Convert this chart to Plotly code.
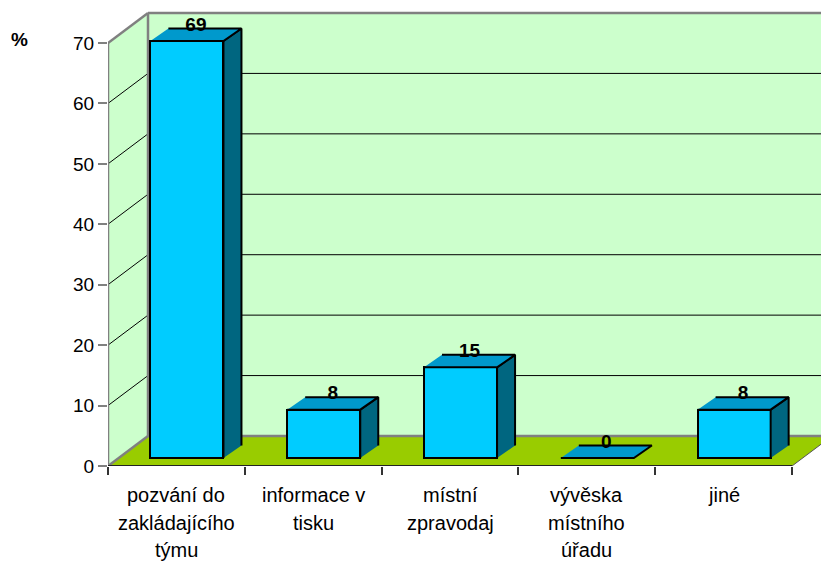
import plotly.graph_objects as go

# ---- data ----
categories = ["pozvání do<br>zakládajícího<br>týmu", "informace v<br>tisku",
              "místní<br>zpravodaj", "vývěska<br>místního<br>úřadu", "jiné"]
values = [69, 8, 15, 0, 8]
y_ticks = [0, 10, 20, 30, 40, 50, 60, 70]
y_unit = "%"

# ---- geometry / style constants (pseudo 3-D projection) ----
FONT = "Liberation Sans, Arial, sans-serif"
W, H = 821, 561
ML, MR, MT, MB = 108, 0, 0, 95
PX_X = 136.8          # px per category
PX_Y = 6.043          # px per percent
X0 = -0.5
X_MAX = X0 + (W - ML - MR) / PX_X
Y_MAX = (H - MT - MB) / PX_Y
YTOP = max(y_ticks)
N = len(categories)
XL, XR = -0.5, N - 0.5

WALL_DX = 40 / PX_X
WALL_DY = 30 / PX_Y
BAR_OX = 0.077
BAR_OY = 8 / PX_Y
BAR_W = 0.534
BAR_DX = 18 / PX_X
BAR_DY = 12.5 / PX_Y

C_WALL = "#CCFFCC"
C_FLOOR = "#99CC00"
C_FRONT = "#00CCFF"
C_TOP = "#0099CC"
C_SIDE = "#006680"
C_EDGE = "#808080"

shapes = []


def poly(pts, fill, line_color=None, width=0):
    path = "M " + " L ".join(f"{x},{y}" for x, y in pts) + " Z"
    shapes.append(dict(type="path", path=path, xref="x", yref="y", layer="below",
                       fillcolor=fill, line=dict(color=line_color or fill, width=width)))


def seg(x0, y0, x1, y1, color, width):
    shapes.append(dict(type="line", x0=x0, y0=y0, x1=x1, y1=y1, xref="x", yref="y",
                       layer="below", line=dict(color=color, width=width)))


bx0, bx1 = XL + WALL_DX, XR + WALL_DX
# back wall
poly([(bx0, WALL_DY), (bx1, WALL_DY), (bx1, YTOP + WALL_DY), (bx0, YTOP + WALL_DY)], C_WALL)
# side wall
poly([(XL, 0), (bx0, WALL_DY), (bx0, YTOP + WALL_DY), (XL, YTOP)], C_WALL)
# floor
poly([(XL, 0), (XR, 0), (bx1, WALL_DY), (bx0, WALL_DY)], C_FLOOR)

# gridlines
for t in y_ticks[1:-1]:
    seg(bx0, t + WALL_DY, bx1, t + WALL_DY, "black", 1)
    seg(XL, t, bx0, t + WALL_DY, "black", 1)

# wall edges
seg(XL, 0, XL, YTOP, C_EDGE, 2.5)
seg(XL, YTOP, bx0, YTOP + WALL_DY, C_EDGE, 2.5)
seg(bx0, YTOP + WALL_DY, bx1, YTOP + WALL_DY, C_EDGE, 2.5)
seg(bx0, WALL_DY, bx0, YTOP + WALL_DY, C_EDGE, 2.5)
seg(bx0, WALL_DY, bx1, WALL_DY, C_EDGE, 2.5)
seg(XL, 0, bx0, WALL_DY, C_EDGE, 2.5)
seg(XR, 0, bx1, WALL_DY, "#555555", 1)
seg(XL, 0, XR, 0, "#222222", 2)

fig = go.Figure()

# front faces
xc = [i + BAR_OX for i in range(N)]
fig.add_trace(go.Bar(x=xc, y=values, base=BAR_OY, width=BAR_W,
                     marker=dict(color=C_FRONT, line=dict(color="black", width=2)),
                     hoverinfo="skip", showlegend=False))

# top & side faces
tx, ty, sx, sy = [], [], [], []
for c, v in zip(xc, values):
    x0, x1 = c - BAR_W / 2, c + BAR_W / 2
    yt = v + BAR_OY
    tx += [x0, x1, x1 + BAR_DX, x0 + BAR_DX, None]
    ty += [yt, yt, yt + BAR_DY, yt + BAR_DY, None]
    if v > 0:
        sx += [x1, x1, x1 + BAR_DX, x1 + BAR_DX, None]
        sy += [BAR_OY, yt, yt + BAR_DY, BAR_OY + BAR_DY, None]

fig.add_trace(go.Scatter(x=sx, y=sy, fill="toself", fillcolor=C_SIDE, mode="lines",
                         line=dict(color="black", width=2), hoverinfo="skip", showlegend=False))
fig.add_trace(go.Scatter(x=tx, y=ty, fill="toself", fillcolor=C_TOP, mode="lines",
                         line=dict(color="black", width=2), hoverinfo="skip", showlegend=False))

# data labels
fig.add_trace(go.Scatter(x=[c + BAR_DX / 2 for c in xc],
                         y=[v + BAR_OY + BAR_DY + 0.4 for v in values],
                         text=[str(v) for v in values], mode="text", textposition="middle center",
                         textfont=dict(family=FONT, size=19, color="black", weight="bold"),
                         hoverinfo="skip", showlegend=False, cliponaxis=False))

annotations = []
for i, cat in enumerate(categories):
    for k, line in enumerate(cat.split("<br>")):
        annotations.append(dict(x=i, y=0, xref="x", yref="y", text=line, showarrow=False,
                                xanchor="center", yanchor="middle", yshift=-(29 + 27.5 * k),
                                font=dict(family=FONT, size=20, color="black")))
annotations.append(dict(x=(19.5 - ML) / (W - ML - MR), y=YTOP, xref="paper", yref="y",
                        text=y_unit, showarrow=False, xanchor="center", yanchor="middle",
                        yshift=3, font=dict(family=FONT, size=19, color="black", weight="bold")))

fig.update_layout(
    width=W, height=H, margin=dict(l=ML, r=MR, t=MT, b=MB),
    paper_bgcolor="white", plot_bgcolor="white",
    shapes=shapes, annotations=annotations, bargap=0,
    xaxis=dict(range=[X0, X_MAX], tickmode="array", tickvals=[i - 0.5 for i in range(N + 1)],
               showticklabels=False, ticks="outside", ticklen=8, tickwidth=1.5,
               tickcolor="#333333", showgrid=False, zeroline=False, showline=False,
               fixedrange=True),
    yaxis=dict(range=[0, Y_MAX], tickmode="array", tickvals=y_ticks,
               ticktext=[str(t) for t in y_ticks], ticks="outside", ticklen=9, tickwidth=2,
               tickcolor=C_EDGE, showgrid=False, zeroline=False, showline=False,
               tickfont=dict(family=FONT, size=19, color="black"), fixedrange=True),
)

fig.write_html("out.html",
               config={"displayModeBar": False},
               post_script="document.body.style.margin='0';"
                           "document.body.style.overflow='hidden';")
